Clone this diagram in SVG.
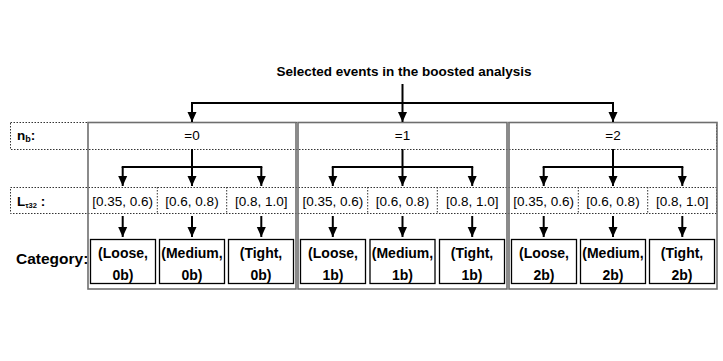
<svg xmlns="http://www.w3.org/2000/svg" width="723" height="361" viewBox="0 0 723 361">
<defs>
<marker id="ah" markerUnits="userSpaceOnUse" markerWidth="10" markerHeight="10" refX="10" refY="5" orient="auto">
<path d="M0,0.5 L10,5 L0,9.5 z" fill="#000"/>
</marker>
<style>
text{font-family:"Liberation Sans",Arial,sans-serif;fill:#000}
.b{font-weight:bold}
.t{font-size:13.5px;text-anchor:middle}
.row{fill:none;stroke:#333;stroke-width:1;stroke-dasharray:1.5,1.5}
.grp{fill:none;stroke:#6e6e6e;stroke-width:1.6}
.cat{fill:#fff;stroke:#000;stroke-width:1.3}
.sep{stroke:#333;stroke-width:1;stroke-dasharray:1.5,1.5}
.ln{fill:none;stroke:#000;stroke-width:2}
.ar{fill:none;stroke:#000;stroke-width:2;marker-end:url(#ah)}
.ct{font-size:14px;font-weight:bold;text-anchor:middle}
</style>
</defs>
<rect width="723" height="361" fill="#fff"/>

<g id="title"><text class="t b" x="404" y="76">Selected events in the boosted analysis</text></g>

<g id="rows">
<rect class="row" x="10.5" y="122.5" width="706" height="27"/>
<rect class="row" x="10.5" y="187.5" width="706" height="26"/>
<text class="b" x="17" y="140" font-size="13.5">n<tspan font-size="9" dy="2">b</tspan><tspan dy="-2">:</tspan></text>
<text class="b" x="17" y="206" font-size="13.5">L<tspan font-size="7.5" dy="2">τ32</tspan><tspan dy="-2"> :</tspan></text>
<text class="b" x="16" y="264" font-size="15.5">Category:</text>
</g>

<g id="group0">
<rect class="grp" x="88" y="122.5" width="208" height="166.5"/>
<text class="t" x="192" y="140">=0</text>
<line class="sep" x1="157.3" y1="187" x2="157.3" y2="213"/>
<line class="sep" x1="226.7" y1="187" x2="226.7" y2="213"/>
<text class="t" x="122.7" y="206">[0.35, 0.6)</text>
<text class="t" x="192" y="206">[0.6, 0.8)</text>
<text class="t" x="261.3" y="206">[0.8, 1.0]</text>
</g>
<g id="cat0L"><rect class="cat" x="90.5" y="239.5" width="65" height="44"/><text class="ct" x="123" y="258">(Loose,</text><text class="ct" x="123" y="280">0b)</text></g>
<g id="cat0M"><rect class="cat" x="159.5" y="239.5" width="65" height="44"/><text class="ct" x="192" y="258">(Medium,</text><text class="ct" x="192" y="280">0b)</text></g>
<g id="cat0T"><rect class="cat" x="228.5" y="239.5" width="65" height="44"/><text class="ct" x="261" y="258">(Tight,</text><text class="ct" x="261" y="280">0b)</text></g>

<g id="group1">
<rect class="grp" x="298" y="122.5" width="209" height="166.5"/>
<text class="t" x="402.5" y="140">=1</text>
<line class="sep" x1="367.7" y1="187" x2="367.7" y2="213"/>
<line class="sep" x1="437.3" y1="187" x2="437.3" y2="213"/>
<text class="t" x="332.8" y="206">[0.35, 0.6)</text>
<text class="t" x="402.5" y="206">[0.6, 0.8)</text>
<text class="t" x="472.2" y="206">[0.8, 1.0]</text>
</g>
<g id="cat1L"><rect class="cat" x="300.5" y="239.5" width="65" height="44"/><text class="ct" x="333" y="258">(Loose,</text><text class="ct" x="333" y="280">1b)</text></g>
<g id="cat1M"><rect class="cat" x="370" y="239.5" width="65" height="44"/><text class="ct" x="402.5" y="258">(Medium,</text><text class="ct" x="402.5" y="280">1b)</text></g>
<g id="cat1T"><rect class="cat" x="439.5" y="239.5" width="65" height="44"/><text class="ct" x="472" y="258">(Tight,</text><text class="ct" x="472" y="280">1b)</text></g>

<g id="group2">
<rect class="grp" x="509" y="122.5" width="208" height="166.5"/>
<text class="t" x="613" y="140">=2</text>
<line class="sep" x1="578.3" y1="187" x2="578.3" y2="213"/>
<line class="sep" x1="647.7" y1="187" x2="647.7" y2="213"/>
<text class="t" x="543.7" y="206">[0.35, 0.6)</text>
<text class="t" x="613" y="206">[0.6, 0.8)</text>
<text class="t" x="682.3" y="206">[0.8, 1.0]</text>
</g>
<g id="cat2L"><rect class="cat" x="511.5" y="239.5" width="65" height="44"/><text class="ct" x="544" y="258">(Loose,</text><text class="ct" x="544" y="280">2b)</text></g>
<g id="cat2M"><rect class="cat" x="580.5" y="239.5" width="65" height="44"/><text class="ct" x="613" y="258">(Medium,</text><text class="ct" x="613" y="280">2b)</text></g>
<g id="cat2T"><rect class="cat" x="649.5" y="239.5" width="65" height="44"/><text class="ct" x="682" y="258">(Tight,</text><text class="ct" x="682" y="280">2b)</text></g>

<g id="connectors">
<line class="ln" x1="402.5" y1="84" x2="402.5" y2="103"/>
<line class="ln" x1="191" y1="103" x2="614" y2="103"/>
<line class="ar" x1="192" y1="103" x2="192" y2="122"/>
<line class="ar" x1="402.5" y1="103" x2="402.5" y2="122"/>
<line class="ar" x1="613" y1="103" x2="613" y2="122"/>

<line class="ln" x1="192" y1="149" x2="192" y2="167"/>
<line class="ln" x1="121.7" y1="167" x2="262.3" y2="167"/>
<line class="ar" x1="122.7" y1="167" x2="122.7" y2="186"/>
<line class="ar" x1="192" y1="167" x2="192" y2="186"/>
<line class="ar" x1="261.3" y1="167" x2="261.3" y2="186"/>

<line class="ln" x1="402.5" y1="149" x2="402.5" y2="167"/>
<line class="ln" x1="331.8" y1="167" x2="473.2" y2="167"/>
<line class="ar" x1="332.8" y1="167" x2="332.8" y2="186"/>
<line class="ar" x1="402.5" y1="167" x2="402.5" y2="186"/>
<line class="ar" x1="472.2" y1="167" x2="472.2" y2="186"/>

<line class="ln" x1="613" y1="149" x2="613" y2="167"/>
<line class="ln" x1="542.7" y1="167" x2="683.3" y2="167"/>
<line class="ar" x1="543.7" y1="167" x2="543.7" y2="186"/>
<line class="ar" x1="613" y1="167" x2="613" y2="186"/>
<line class="ar" x1="682.3" y1="167" x2="682.3" y2="186"/>

<line class="ar" x1="122.7" y1="216" x2="122.7" y2="237"/>
<line class="ar" x1="192" y1="216" x2="192" y2="237"/>
<line class="ar" x1="261.3" y1="216" x2="261.3" y2="237"/>
<line class="ar" x1="332.8" y1="216" x2="332.8" y2="237"/>
<line class="ar" x1="402.5" y1="216" x2="402.5" y2="237"/>
<line class="ar" x1="472.2" y1="216" x2="472.2" y2="237"/>
<line class="ar" x1="543.7" y1="216" x2="543.7" y2="237"/>
<line class="ar" x1="613" y1="216" x2="613" y2="237"/>
<line class="ar" x1="682.3" y1="216" x2="682.3" y2="237"/>
</g>
</svg>
